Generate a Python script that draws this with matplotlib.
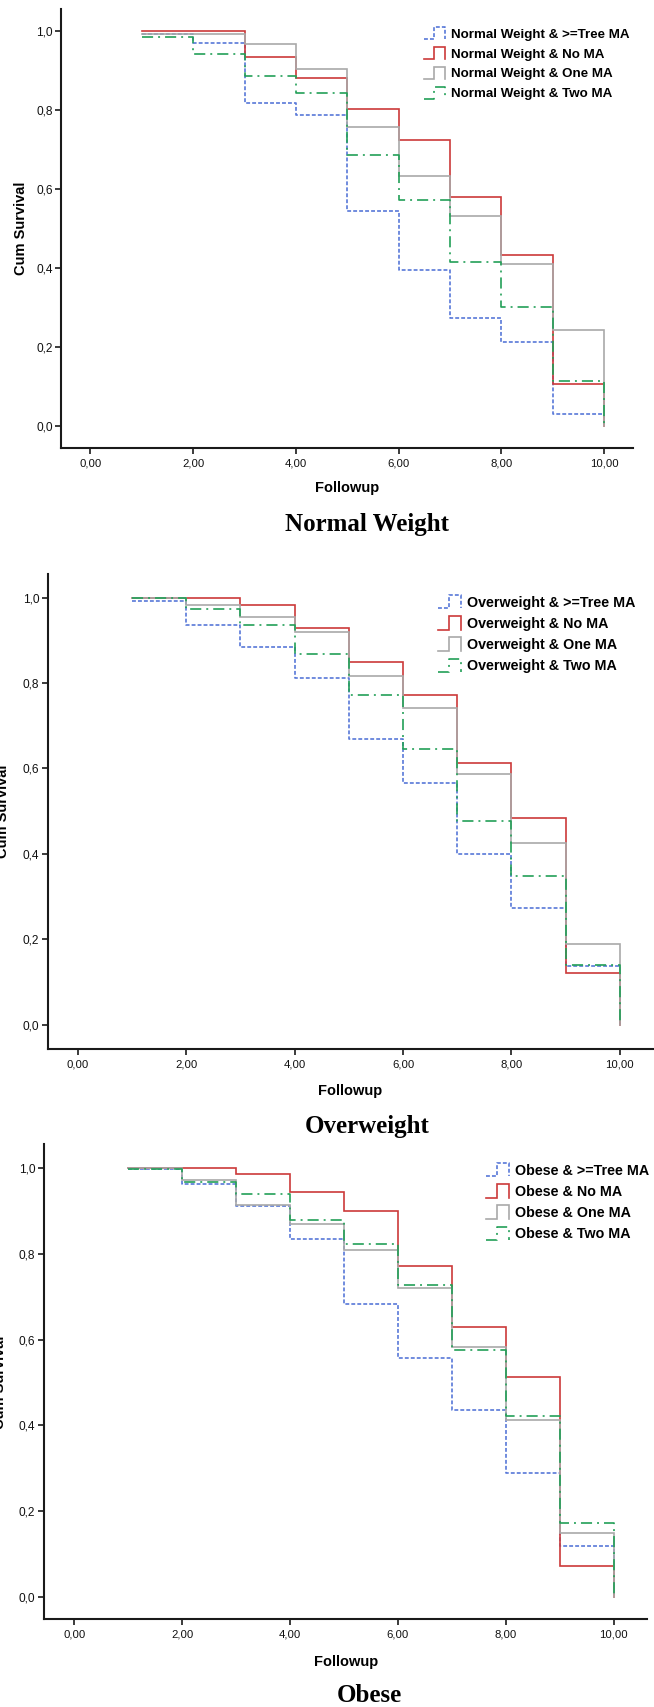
import matplotlib
matplotlib.use('Agg')
import matplotlib.pyplot as plt
from matplotlib.lines import Line2D
from matplotlib.legend_handler import HandlerBase

plt.rcParams['font.family'] = ['Liberation Sans', 'DejaVu Sans']
plt.rcParams['lines.scale_dashes'] = False

W, H, DPI = 654, 1707, 100

# ---------------- data ----------------
followup = [1, 2, 3, 4, 5, 6, 7, 8, 9, 10]

x_ticks = [0, 2, 4, 6, 8, 10]
x_tick_labels = ["0,00", "2,00", "4,00", "6,00", "8,00", "10,00"]
y_ticks = [0.0, 0.2, 0.4, 0.6, 0.8, 1.0]
y_tick_labels = ["0,0", "0,2", "0,4", "0,6", "0,8", "1,0"]

group_suffixes = [">=Tree MA", "No MA", "One MA", "Two MA"]

# Normal Weight
nw_tree = [0.993, 0.970, 0.818, 0.788, 0.545, 0.394, 0.273, 0.212, 0.031, 0.0]
nw_no   = [1.000, 1.000, 0.934, 0.882, 0.803, 0.724, 0.579, 0.434, 0.106, 0.0]
nw_one  = [0.993, 0.993, 0.966, 0.905, 0.757, 0.634, 0.531, 0.409, 0.244, 0.0]
nw_two  = [0.986, 0.943, 0.886, 0.842, 0.686, 0.571, 0.414, 0.300, 0.115, 0.0]

# Overweight
ow_tree = [0.993, 0.937, 0.885, 0.811, 0.668, 0.565, 0.399, 0.274, 0.138, 0.0]
ow_no   = [1.000, 1.000, 0.982, 0.930, 0.850, 0.771, 0.613, 0.483, 0.122, 0.0]
ow_one  = [1.000, 0.982, 0.954, 0.920, 0.817, 0.741, 0.587, 0.426, 0.188, 0.0]
ow_two  = [1.000, 0.973, 0.936, 0.869, 0.772, 0.645, 0.478, 0.348, 0.140, 0.0]

# Obese
ob_tree = [0.998, 0.962, 0.912, 0.834, 0.684, 0.557, 0.435, 0.289, 0.118, 0.0]
ob_no   = [1.000, 1.000, 0.986, 0.943, 0.901, 0.772, 0.629, 0.514, 0.072, 0.0]
ob_one  = [1.000, 0.973, 0.913, 0.870, 0.808, 0.721, 0.583, 0.413, 0.149, 0.0]
ob_two  = [0.997, 0.968, 0.940, 0.880, 0.824, 0.728, 0.575, 0.421, 0.172, 0.0]

panel_names = ["Normal Weight", "Overweight", "Obese"]
panel_series = [
    [nw_tree, nw_no, nw_one, nw_two],
    [ow_tree, ow_no, ow_one, ow_two],
    [ob_tree, ob_no, ob_one, ob_two],
]

# ---------------- styles ----------------
styles = [
    dict(color='#5878d8', lw=1.2, dashes=(2.8, 1.5)),
    dict(color='#cc3a3a', lw=1.2, linestyle='-'),
    dict(color='#a9a9a9', lw=1.2, linestyle='-'),
    dict(color='#23a058', lw=1.2, dashes=(8.0, 3.6, 1.4, 3.6)),
]

# pixel geometry per panel
panels_geom = [
    dict(box=(61, 633, 9, 448.3), xlim=(-0.574, 10.561), ylim=(-0.0565, 1.0557),
         leg=(423.5, 27), legfs=9.6, lsp=0.46, xlab=(347, 488.3), ylab=(21, 228.6),
         title=(367, 524)),
    dict(box=(47.7, 654, 574, 1049), xlim=(-0.554, 10.63), ylim=(-0.057, 1.0555),
         leg=(438, 595), legfs=10.3, lsp=0.47, xlab=(350, 1091), ylab=(3.5, 811),
         title=(367, 1127)),
    dict(box=(43.6, 647, 1144, 1619), xlim=(-0.571, 10.62), ylim=(-0.051, 1.056),
         leg=(486, 1163), legfs=10.3, lsp=0.47, xlab=(346, 1662), ylab=(0.5, 1382),
         title=(369, 1696)),
]


class StepHandler(HandlerBase):
    def create_artists(self, legend, orig_handle, xdescent, ydescent,
                       width, height, fontsize, trans):
        x0, y0 = -xdescent, -ydescent
        xs = [x0, x0 + 0.5 * width, x0 + 0.5 * width, x0 + width, x0 + width]
        ys = [y0, y0, y0 + height, y0 + height, y0]
        ln = Line2D(xs, ys)
        ln.update_from(orig_handle)
        ln.set_transform(trans)
        return [ln]


fig = plt.figure(figsize=(W / DPI, H / DPI), dpi=DPI)
fig.patch.set_facecolor('white')

for name, series, g in zip(panel_names, panel_series, panels_geom):
    l, r, t, b = g['box']
    ax = fig.add_axes([l / W, 1 - b / H, (r - l) / W, (b - t) / H])
    handles = []
    for vals, st, suf in zip(series, styles, group_suffixes):
        ln, = ax.step(followup, vals, where='post', label=f"{name} & {suf}",
                      solid_joinstyle='miter', **st)
        handles.append(ln)
    ax.set_xlim(*g['xlim'])
    ax.set_ylim(*g['ylim'])
    ax.set_xticks(x_ticks)
    ax.set_xticklabels(x_tick_labels)
    ax.set_yticks(y_ticks)
    ax.set_yticklabels(y_tick_labels)
    for s in ['top', 'right']:
        ax.spines[s].set_visible(False)
    for s in ['left', 'bottom']:
        ax.spines[s].set_linewidth(1.5)
        ax.spines[s].set_color('#1a1a1a')
    ax.tick_params(axis='x', length=4, width=1.2, color='#1a1a1a', labelsize=8.2,
                   pad=3.5, labelcolor='#111111')
    ax.tick_params(axis='y', length=4.5, width=1.2, color='#1a1a1a', labelsize=8.6,
                   pad=1.5, labelcolor='#111111')

    ax.set_xlabel("Followup", fontsize=10.5, fontweight='bold', va='center')
    ax.xaxis.set_label_coords(g['xlab'][0] / W, 1 - g['xlab'][1] / H,
                              transform=fig.transFigure)
    ax.set_ylabel("Cum Survival", fontsize=10.5, fontweight='bold', va='center')
    ax.yaxis.set_label_coords(g['ylab'][0] / W, 1 - g['ylab'][1] / H,
                              transform=fig.transFigure)

    leg = ax.legend(handles=handles, loc='upper left',
                    bbox_to_anchor=(g['leg'][0] / W, 1 - g['leg'][1] / H),
                    bbox_transform=fig.transFigure, frameon=False,
                    borderpad=0, borderaxespad=0, handlelength=1.6,
                    handleheight=1.05, handletextpad=0.45, labelspacing=g['lsp'],
                    prop=dict(size=g['legfs'], weight='bold'),
                    handler_map={Line2D: StepHandler()})

    fig.text(g['title'][0] / W, 1 - g['title'][1] / H, name,
             family=['Liberation Serif', 'DejaVu Serif'], fontweight='bold',
             fontsize=18, ha='center', va='center')

fig.savefig('out.png', dpi=DPI, facecolor='white')
